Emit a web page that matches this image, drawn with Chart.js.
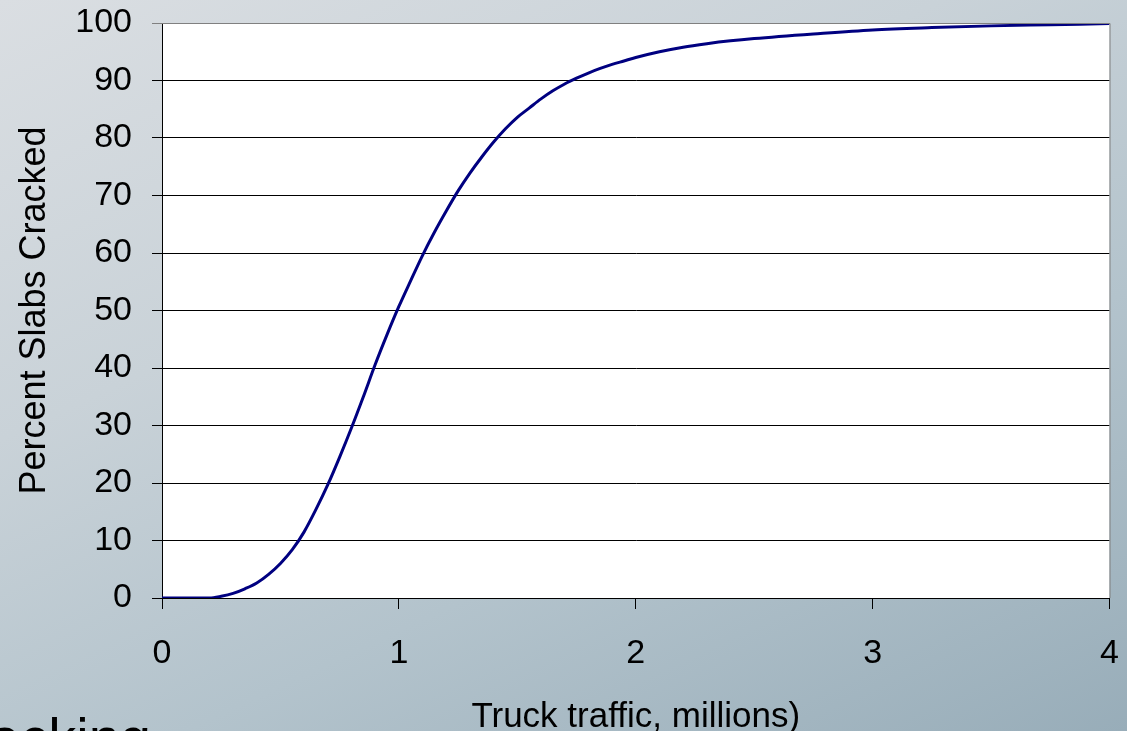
<!DOCTYPE html>
<html>
<head>
<meta charset="utf-8">
<script src="https://cdn.jsdelivr.net/npm/chart.js@4/dist/chart.umd.min.js"></script>
<style>
	html, body {
		margin: 0;
		padding: 0;
		width: 1127px;
		height: 731px;
		overflow: hidden;
	}
	body {
		position: relative;
		background: linear-gradient(155deg, #dadee2 0%, #c9d2d8 35%, #b3c3cc 65%, #98adb9 100%);
		font-family: "Liberation Sans", Arial, sans-serif;
	}
	#chart {
		position: absolute;
		left: 0;
		top: 0;
	}
	#slide-text {
		position: absolute;
		left: -70px;
		top: 710px;
		font-size: 56px;
		line-height: 1;
		color: #000;
		white-space: nowrap;
	}
</style>
</head>
<body>
<canvas id="chart" width="1127" height="731"></canvas>
<div id="slide-text">Cracking</div>
<script>
// Truck traffic (millions) and percent of slabs cracked
const traffic = [0, 0.1, 0.2, 0.25, 0.3, 0.35, 0.4, 0.45, 0.5, 0.55, 0.6, 0.65, 0.7, 0.75, 0.8, 0.85,
	0.9, 0.95, 1.0, 1.05, 1.1, 1.15, 1.2, 1.25, 1.3, 1.35, 1.4, 1.45, 1.5, 1.55, 1.6, 1.65,
	1.7, 1.75, 1.8, 1.85, 1.9, 1.95, 2.0, 2.1, 2.2, 2.3, 2.4, 2.5, 2.75, 3.0, 3.25, 3.5, 3.75, 4.0];
const cracked = [0, 0, 0, 0.3, 0.8, 1.6, 2.6, 4.1, 6.0, 8.4, 11.5, 15.4, 19.7, 24.5, 29.6, 35.0,
	40.6, 45.8, 50.7, 55.2, 59.6, 63.6, 67.3, 70.8, 73.9, 76.7, 79.3, 81.6, 83.6, 85.2, 86.8, 88.2,
	89.4, 90.4, 91.3, 92.1, 92.8, 93.4, 94.0, 95.0, 95.8, 96.4, 96.9, 97.3, 98.1, 98.8, 99.2, 99.5, 99.7, 99.9];

const xTicks = [0, 1, 2, 3, 4];
const yTicks = [0, 10, 20, 30, 40, 50, 60, 70, 80, 90, 100];

const xTitle = "Truck traffic, millions)";
const yTitle = "Percent Slabs Cracked";

const points = traffic.map(function (t, i)
{
	return {x: t, y: cracked[i]};
});

const fontFamily = "'Liberation Sans', Arial, sans-serif";

// White plot area with a gray outline, like the spreadsheet chart
const plotArea = {
	id: "plotArea",
	beforeDraw: function (chart)
	{
		const {ctx, chartArea} = chart;
		ctx.save();
		ctx.fillStyle = "#ffffff";
		ctx.fillRect(chartArea.left, chartArea.top, chartArea.right - chartArea.left, chartArea.bottom - chartArea.top);
		ctx.restore();
	},
	afterDraw: function (chart)
	{
		const {ctx, chartArea} = chart;
		ctx.save();
		ctx.strokeStyle = "#808080";
		ctx.lineWidth = 1;
		ctx.beginPath();
		ctx.moveTo(chartArea.left, chartArea.top + 0.5);
		ctx.lineTo(chartArea.right + 0.5, chartArea.top + 0.5);
		ctx.lineTo(chartArea.right + 0.5, chartArea.bottom);
		ctx.stroke();
		ctx.restore();
	}
};

const chart = new Chart(document.getElementById("chart"), {
	type: "line",
	data: {
		datasets: [{
			label: yTitle,
			data: points,
			borderColor: "#000080",
			borderWidth: 3,
			pointRadius: 0,
			fill: false,
			cubicInterpolationMode: "monotone"
		}]
	},
	options: {
		responsive: false,
		animation: false,
		layout: {
			padding: {left: 0, right: 17.5, top: 23, bottom: 0}
		},
		plugins: {
			legend: {display: false},
			tooltip: {enabled: false}
		},
		scales: {
			x: {
				type: "linear",
				min: 0,
				max: 4,
				afterBuildTicks: function (scale)
				{
					scale.ticks = xTicks.map(v => ({value: v}));
				},
				afterFit: function (scale)
				{
					scale.height = 133;
					scale.paddingLeft = 0;
					scale.paddingRight = 0;
				},
				ticks: {
					color: "#000",
					padding: 24,
					maxRotation: 0,
					font: {family: fontFamily, size: 34}
				},
				grid: {
					drawOnChartArea: false,
					drawTicks: true,
					tickLength: 11,
					color: "#000"
				},
				border: {color: "#000", width: 1},
				title: {
					display: true,
					text: xTitle,
					color: "#000",
					padding: {top: 0, bottom: 0},
					font: {family: fontFamily, size: 35, lineHeight: 0.8}
				}
			},
			y: {
				min: 0,
				max: 100,
				afterBuildTicks: function (scale)
				{
					scale.ticks = yTicks.map(v => ({value: v}));
				},
				afterFit: function (scale)
				{
					scale.width = 162;
					scale.paddingTop = 0;
					scale.paddingBottom = 0;
				},
				ticks: {
					color: "#000",
					padding: 20,
					font: {family: fontFamily, size: 34}
				},
				grid: {
					tickLength: 10,
					lineWidth: 1,
					color: function (ctx)
					{
						return ctx.tick && ctx.tick.value === 100 ? "#808080" : "#000";
					}
				},
				border: {color: "#000", width: 1},
				title: {
					display: true,
					text: yTitle,
					color: "#000",
					padding: {top: 13, bottom: 0},
					font: {family: fontFamily, size: 36}
				}
			}
		}
	},
	plugins: [plotArea]
});
</script>
</body>
</html>
